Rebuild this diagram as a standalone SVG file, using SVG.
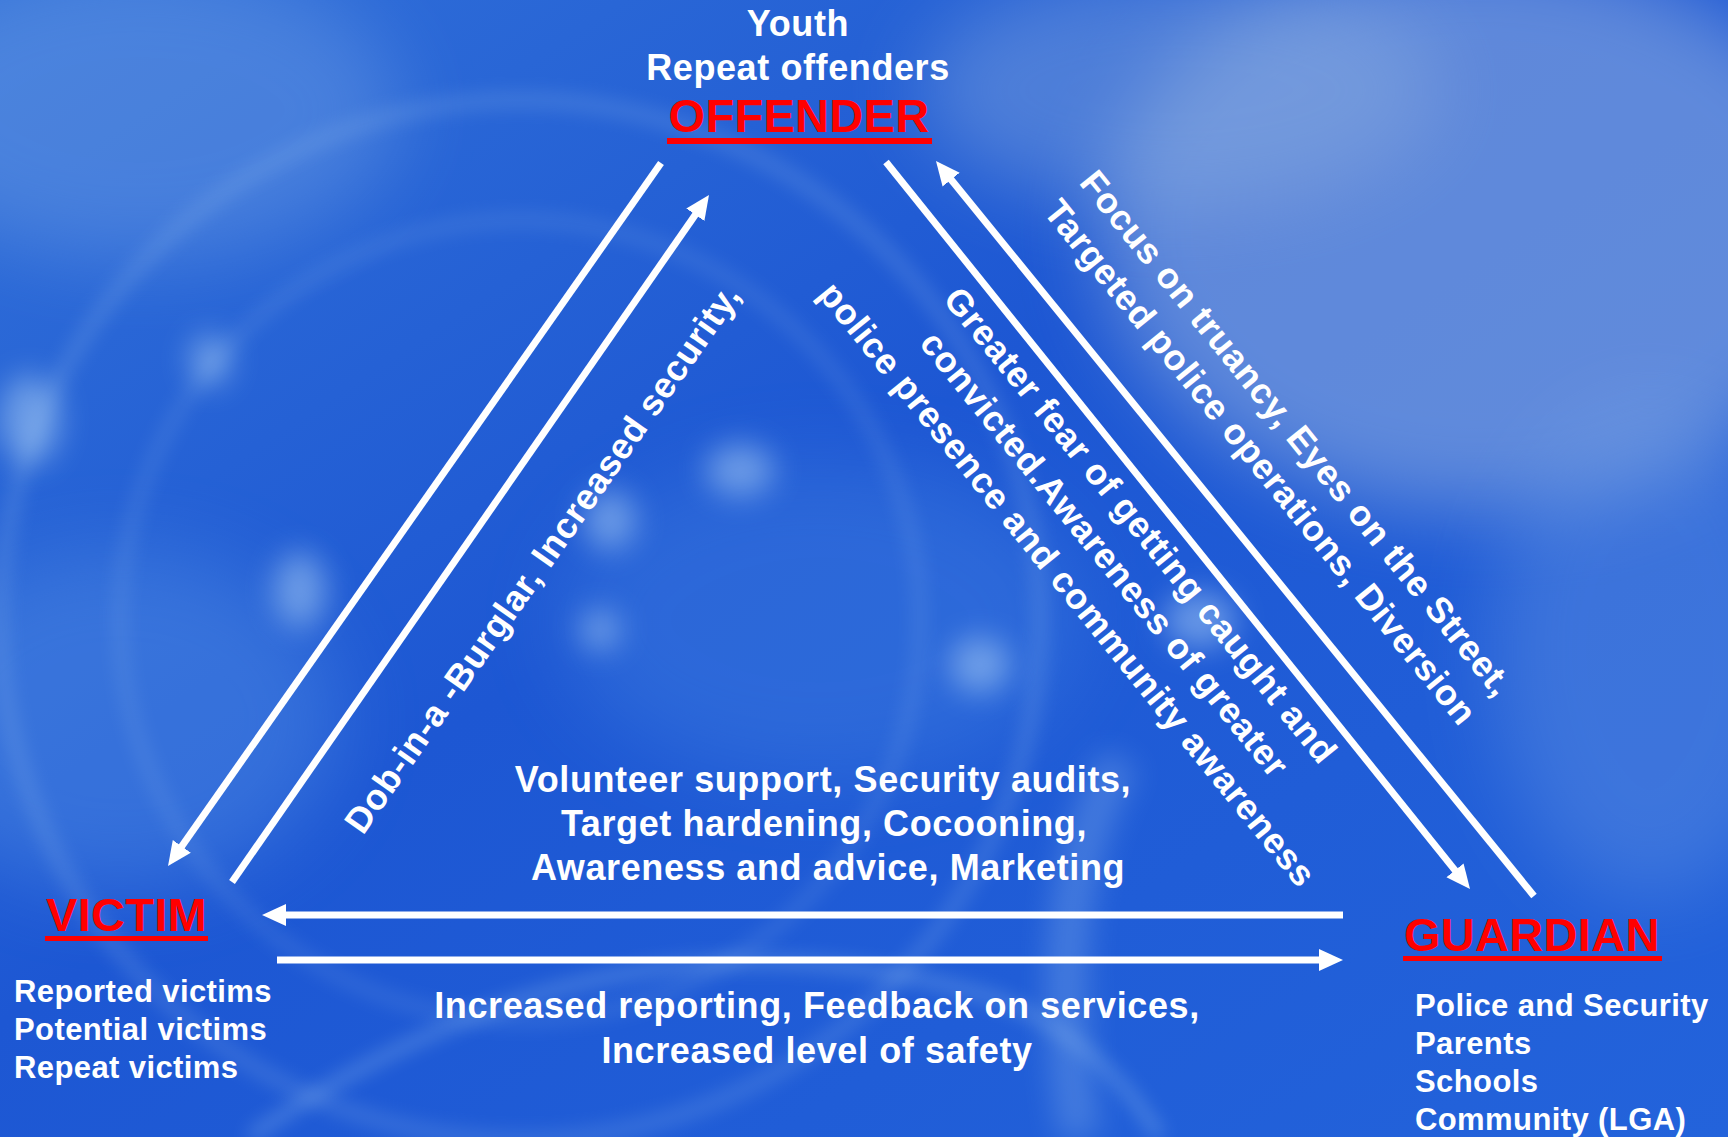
<svg xmlns="http://www.w3.org/2000/svg" width="1728" height="1137" viewBox="0 0 1728 1137">
<style>
.t{font-family:"Liberation Sans",Arial,sans-serif;font-weight:bold;fill:#ffffff;font-size:36px;letter-spacing:0.6px}
.s{font-size:31px;letter-spacing:0.4px}
.r{font-family:"Liberation Sans",Arial,sans-serif;font-weight:bold;fill:#ff0000;font-size:47px;letter-spacing:0.3px}
.c{text-anchor:middle}
.ln{stroke:#ffffff;stroke-width:7;fill:none;stroke-linecap:butt}
.arr{marker-end:url(#ah)}
</style>
<defs>
<linearGradient id="bg" x1="0" y1="0" x2="1" y2="1">
<stop offset="0" stop-color="#3170d8"/>
<stop offset="0.45" stop-color="#1d57d3"/>
<stop offset="1" stop-color="#2363db"/>
</linearGradient>
<filter id="b40" filterUnits="userSpaceOnUse" x="-200" y="-200" width="2128" height="1537"><feGaussianBlur stdDeviation="40"/></filter>
<filter id="b15" filterUnits="userSpaceOnUse" x="-200" y="-200" width="2128" height="1537"><feGaussianBlur stdDeviation="15"/></filter>
<filter id="b8" filterUnits="userSpaceOnUse" x="-200" y="-200" width="2128" height="1537"><feGaussianBlur stdDeviation="9"/></filter>
<marker id="ah" markerUnits="userSpaceOnUse" markerWidth="26" markerHeight="24" viewBox="0 0 26 24" refX="4" refY="12" orient="auto">
<path d="M0,1 L24,12 L0,23 Z" fill="#ffffff"/>
</marker>
</defs>
<g id="background">
<rect x="0" y="0" width="1728" height="1137" fill="url(#bg)"/>
<ellipse cx="1480" cy="230" rx="380" ry="280" fill="#a0bae2" opacity="0.5" filter="url(#b40)"/>
<ellipse cx="1180" cy="90" rx="260" ry="120" fill="#8fb0e0" opacity="0.4" filter="url(#b40)"/>
<ellipse cx="1650" cy="650" rx="160" ry="250" fill="#7ea7e6" opacity="0.3" filter="url(#b40)"/>
<ellipse cx="140" cy="110" rx="260" ry="150" fill="#7eaae8" opacity="0.35" filter="url(#b40)"/>
<ellipse cx="120" cy="720" rx="220" ry="170" fill="#5e9ae8" opacity="0.35" filter="url(#b40)"/>
<ellipse cx="820" cy="620" rx="260" ry="160" fill="#4f8ee6" opacity="0.3" filter="url(#b40)"/>
<circle cx="520" cy="620" r="520" fill="none" stroke="#a8cdf2" stroke-width="16" opacity="0.18" filter="url(#b8)"/>
<circle cx="520" cy="620" r="400" fill="none" stroke="#a8cdf2" stroke-width="14" opacity="0.14" filter="url(#b8)"/>
<path d="M250 1137 Q 620 880 1000 1000 Q 1100 1040 1160 1137" fill="none" stroke="#a8d0f4" stroke-width="12" opacity="0.3" filter="url(#b8)"/>
<path d="M1080 1137 Q 1040 900 1120 760" fill="none" stroke="#b0d4f4" stroke-width="40" opacity="0.25" filter="url(#b15)"/>
<g fill="#bfe0fa" filter="url(#b15)" opacity="0.45">
<ellipse cx="300" cy="590" rx="26" ry="38"/>
<ellipse cx="210" cy="360" rx="20" ry="26"/>
<ellipse cx="610" cy="520" rx="26" ry="30"/>
<ellipse cx="980" cy="665" rx="30" ry="28"/>
<ellipse cx="1200" cy="620" rx="36" ry="28"/>
<ellipse cx="600" cy="630" rx="20" ry="20"/>
<ellipse cx="30" cy="420" rx="30" ry="45"/>
<ellipse cx="740" cy="470" rx="34" ry="26"/>
</g>
</g>
<g id="connectors">
<line class="ln arr" x1="661" y1="163" x2="179.5" y2="849.6"/>
<line class="ln arr" x1="232" y1="882" x2="697.6" y2="211.4"/>
<line class="ln arr" x1="886" y1="162" x2="1457.5" y2="873.4"/>
<line class="ln arr" x1="1534" y1="896" x2="948.6" y2="176.5"/>
<line class="ln arr" x1="1343" y1="915" x2="282" y2="915"/>
<line class="ln arr" x1="277" y1="960" x2="1323" y2="960"/>
</g>
<g id="node-offender">
<text class="t c" x="798" y="36">Youth</text>
<text class="t c" x="798" y="80">Repeat offenders</text>
<text class="r c" x="799" y="132">OFFENDER</text>
<rect x="667" y="138" width="265" height="6" fill="#ff0000"/>
</g>
<g id="node-victim">
<text class="r" x="46" y="931">VICTIM</text>
<rect x="45" y="936" width="163" height="5" fill="#ff0000"/>
<text class="t s" x="14" y="1002">Reported victims</text>
<text class="t s" x="14" y="1040">Potential victims</text>
<text class="t s" x="14" y="1078">Repeat victims</text>
</g>
<g id="node-guardian">
<text class="r" x="1404" y="951">GUARDIAN</text>
<rect x="1403" y="956" width="259" height="5" fill="#ff0000"/>
<text class="t s" x="1415" y="1016">Police and Security</text>
<text class="t s" x="1415" y="1054">Parents</text>
<text class="t s" x="1415" y="1092">Schools</text>
<text class="t s" x="1415" y="1130">Community (LGA)</text>
</g>
<g id="labels">
<text class="t" transform="translate(363,836) rotate(-55)">Dob-in-a -Burglar, Increased security,</text>
<text class="t c" transform="translate(1287,441) rotate(51)">Focus on truancy, Eyes on the Street,</text>
<text class="t c" transform="translate(1251,470) rotate(51)">Targeted police operations, Diversion</text>
<text class="t c" transform="translate(1131,533) rotate(51)">Greater fear of getting caught and</text>
<text class="t c" transform="translate(1095,562) rotate(51)">convicted.Awareness of greater</text>
<text class="t c" transform="translate(1058,592) rotate(51)">police presence and community awareness</text>
<text class="t c" x="823" y="792">Volunteer support, Security audits,</text>
<text class="t c" x="824" y="836">Target hardening, Cocooning,</text>
<text class="t c" x="828" y="880">Awareness and advice, Marketing</text>
<text class="t c" x="817" y="1018">Increased reporting, Feedback on services,</text>
<text class="t c" x="817" y="1063">Increased level of safety</text>
</g>
</svg>
